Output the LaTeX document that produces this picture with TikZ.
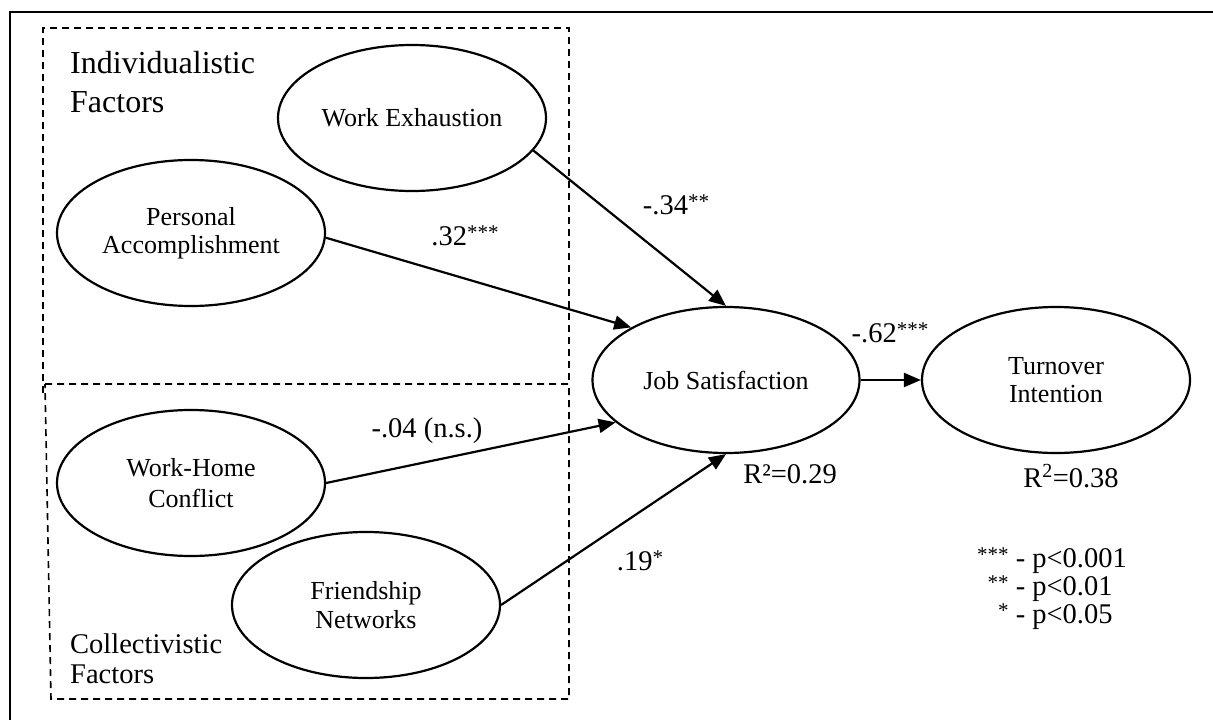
\documentclass[tikz,border=0pt]{standalone}
\usepackage{fontspec}
\setmainfont{Liberation Serif}
\usetikzlibrary{arrows.meta,shapes.geometric}
\newcommand{\sigstars}[1]{\raisebox{6pt}{\fontsize{21}{21}\selectfont #1}}
\begin{document}
\begin{tikzpicture}[x=1pt,y=-1pt,
  latent/.style={ellipse, draw, line width=2.2pt, minimum width=268pt, minimum height=146pt,
    inner sep=0pt, align=center, font=\fontsize{26}{28}\selectfont, fill=white},
  conn/.style={line width=2.2pt, -{Triangle[length=17pt,width=14pt]}},
  coef/.style={font=\fontsize{28.5}{34}\selectfont, inner sep=0pt, anchor=base},
  grp/.style={line width=1.6pt, dash pattern=on 7pt off 5pt},
  grplabel/.style={anchor=north west, inner sep=0pt, align=left}
]
\useasboundingbox (0,0) rectangle (1213,720);
\fill[white] (0,0) rectangle (1213,720);

% outer frame (top and left visible)
\draw[line width=2.6pt] (1213,12) -- (10,12) -- (10,720);

% dashed group boxes
\draw[grp] (43,393) -- (43,28) -- (569,28) -- (569,384);
\draw[grp] (45,384) -- (569,384) -- (569,699) -- (51,699) -- cycle;

% group labels
\node[grplabel, font=\fontsize{32}{39}\selectfont] (ind) at (70,51) {Individualistic\\Factors};
\node[grplabel, font=\fontsize{28.5}{30}\selectfont] (col) at (70,633.5) {Collectivistic\\Factors};

% latent variables
\node[latent] (we) at (412,118) {Work Exhaustion};
\node[latent] (pa) at (191,233) {Personal\\Accomplishment};
\node[latent, font=\fontsize{26}{31}\selectfont] (wh) at (191,483) {Work-Home\\Conflict};
\node[latent, font=\fontsize{26}{29}\selectfont] (fn) at (366,605) {Friendship\\Networks};
\node[latent, minimum width=267pt] (js) at (726,380) {Job Satisfaction};
\node[latent] (ti) at (1056,380) {Turnover\\Intention};

% paths
\draw[conn] (we.-15) -- (js.north);
\draw[conn] (pa.-2) -- (js.151);
\draw[conn] (wh.east) -- (js.201);
\draw[conn] (fn.east) -- (js.south);
\draw[conn] (js.east) -- (ti.west);

% coefficients
\node[coef] (c1) at (676,214) {-.34\sigstars{**}};
\node[coef] (c2) at (465,245) {.32\sigstars{***}};
\node[coef] (c3) at (890,342) {-.62\sigstars{***}};
\node[coef] (c4) at (427,437) {-.04 (n.s.)};
\node[coef] (c5) at (640,570) {.19\sigstars{*}};
\node[coef] (r1) at (790,483) {R²=0.29};
\node[coef] (r2) at (1071,487) {R\textsuperscript{2}=0.38};

% legend
\node[anchor=base west, inner sep=0pt, font=\fontsize{28.5}{28}\selectfont] (leg) at (977,567)
  {\begin{tabular}[t]{@{}r@{ - }l@{}}
   \sigstars{***} & p<0.001\\
   \sigstars{**} & p<0.01\\
   \sigstars{*} & p<0.05
   \end{tabular}};
\end{tikzpicture}
\end{document}
